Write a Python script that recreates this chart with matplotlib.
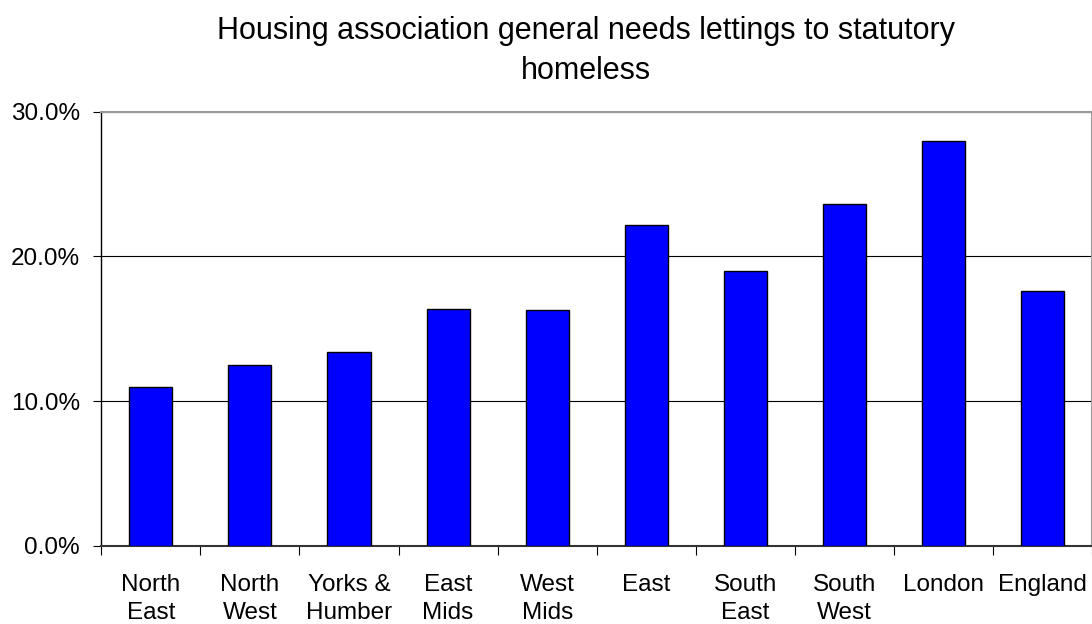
import matplotlib
matplotlib.use("Agg")
import matplotlib.pyplot as plt
import numpy as np
from matplotlib.ticker import FuncFormatter

plt.rcParams['font.family'] = ['Liberation Sans', 'DejaVu Sans']

regions = ["North\nEast", "North\nWest", "Yorks &\nHumber", "East\nMids", "West\nMids",
           "East", "South\nEast", "South\nWest", "London", "England"]
share_homeless = [11.0, 12.5, 13.4, 16.4, 16.3, 22.2, 19.0, 23.6, 28.0, 17.6]
y_ticks = [0, 10, 20, 30]

fig = plt.figure(figsize=(10.92, 6.24), dpi=100)
ax = fig.add_axes([0.0928, 0.125, 0.9072, 0.696])

n = len(regions)
x = np.arange(n)
ax.bar(x, share_homeless, width=0.435, color="#0000FF", edgecolor="black",
       linewidth=1.0, zorder=3)

ax.set_xlim(-0.5, n - 0.5)
ax.set_ylim(0, 30)

# Gridlines
ax.set_yticks(y_ticks)
ax.yaxis.set_major_formatter(FuncFormatter(lambda v, p: f"{v:.1f}%"))
ax.grid(axis="y", color="black", linewidth=0.8, zorder=1)
ax.tick_params(axis="y", direction="out", length=5.8, width=0.8, pad=9.6,
               labelsize=17.5, colors="black")

# Category boundaries carry the ticks; labels sit at the centres
ax.set_xticks(np.arange(n + 1) - 0.5)
ax.set_xticklabels([])
ax.set_xticks(x, minor=True)
ax.set_xticklabels(regions, minor=True, fontsize=17.5, linespacing=1.39)
ax.tick_params(axis="x", which="major", direction="out", length=6.5, width=0.8)
ax.tick_params(axis="x", which="minor", length=0, pad=20)

for side in ("top", "right"):
    ax.spines[side].set_color("#999999")
    ax.spines[side].set_linewidth(1.5)
ax.spines["left"].set_color("black")
ax.spines["left"].set_linewidth(1.0)
ax.spines["bottom"].set_color("#333333")
ax.spines["bottom"].set_linewidth(1.5)

fig.text(0.537, 0.975, "Housing association general needs lettings to statutory\nhomeless",
         ha="center", va="top", fontsize=22, linespacing=1.45)

fig.savefig("out.png", dpi=100)
